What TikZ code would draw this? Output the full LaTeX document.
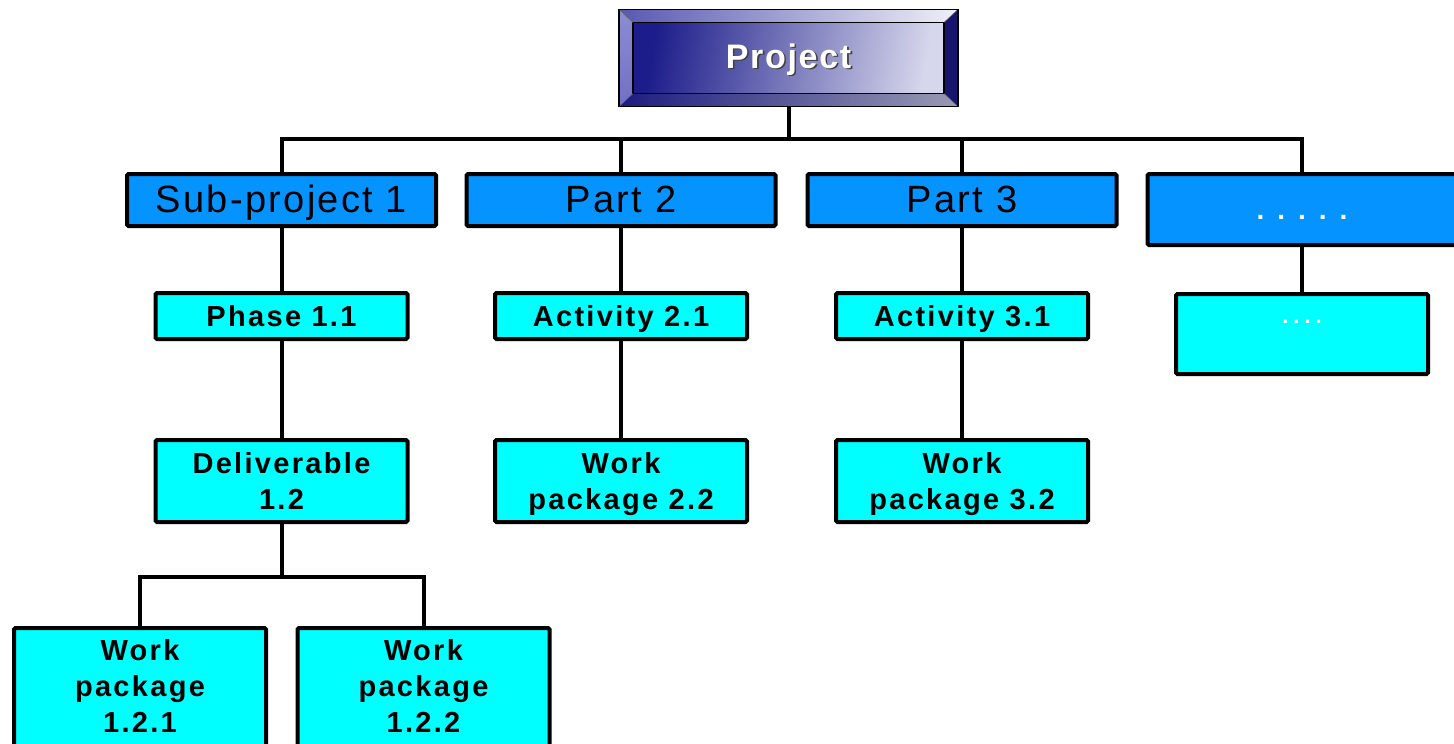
\documentclass[tikz,border=0pt]{standalone}
\usepackage{fontspec}
\setmainfont{Liberation Sans}
\usetikzlibrary{calc}

\definecolor{lvlone}{HTML}{0593FF}
\definecolor{lvltwo}{HTML}{00FFFF}
\definecolor{navydark}{HTML}{1C1C8A}
\definecolor{navydeep}{HTML}{16166E}
\definecolor{lavender}{HTML}{D6D6EC}
\definecolor{bevtopL}{HTML}{5858B2}
\definecolor{bevtopR}{HTML}{F0F0F8}
\definecolor{bevleft}{HTML}{7070C6}
\definecolor{bevbotL}{HTML}{1C1C80}
\definecolor{bevbotR}{HTML}{9A9AB4}

\newcommand\wbsone{\fontsize{38}{44}\selectfont\addfontfeature{LetterSpace=6}}
\newcommand\wbstwo{\fontsize{29}{36}\selectfont\bfseries\addfontfeature{LetterSpace=8}}
\newcommand\wbstop{\fontsize{34}{40}\selectfont\bfseries\addfontfeature{LetterSpace=5}}
\newcommand\shadowed[1]{{\color{black!75}\rlap{\hspace{1.6pt}\raisebox{-1.6pt}{#1}}}#1}

\begin{document}
\begin{tikzpicture}[x=1pt,y=-1pt,
  conn/.style={draw=black, line width=4pt},
  box/.style={draw=black, line width=4pt, rounded corners=1.5pt, inner sep=0pt, align=center},
  lvlonebox/.style={box, fill=lvlone, minimum width=309pt, minimum height=52pt, font=\wbsone,
    text height=27pt, text depth=3pt},
  lvltwobox/.style={box, fill=lvltwo, minimum width=252pt, minimum height=46pt, font=\wbstwo,
    text height=21pt, text depth=1pt},
  lvlthreebox/.style={box, fill=lvltwo, minimum width=252pt, minimum height=82pt, font=\wbstwo,
    text depth=0pt},
  lvlfourbox/.style={box, fill=lvltwo, minimum width=252pt, minimum height=130pt, font=\wbstwo,
    text depth=14pt},
  bevelbox/.style={draw=black, line width=1.5pt, inner sep=0pt, minimum width=339pt,
    minimum height=97pt, text=white, font=\wbstop, text height=24pt, text depth=4pt,
    path picture={
      \coordinate (oNW) at (path picture bounding box.north west);
      \coordinate (oNE) at (path picture bounding box.north east);
      \coordinate (oSW) at (path picture bounding box.south west);
      \coordinate (oSE) at (path picture bounding box.south east);
      \coordinate (iNW) at ($(oNW)+(14,13)$);
      \coordinate (iNE) at ($(oNE)+(-14,13)$);
      \coordinate (iSW) at ($(oSW)+(14,-13)$);
      \coordinate (iSE) at ($(oSE)+(-14,-13)$);
      \shade[left color=bevtopL, right color=bevtopR] (oNW) -- (oNE) -- (iNE) -- (iNW) -- cycle;
      \shade[top color=bevleft!80!white, bottom color=bevleft] (oNW) -- (iNW) -- (iSW) -- (oSW) -- cycle;
      \shade[left color=bevbotL, right color=bevbotR] (oSW) -- (iSW) -- (iSE) -- (oSE) -- cycle;
      \fill[navydeep] (oNE) -- (oSE) -- (iSE) -- (iNE) -- cycle;
      \shade[left color=navydark, right color=lavender, shading angle=80] (iNW) rectangle (iSE);
      \draw[black, line width=1.5pt] (iNW) rectangle (iSE);
      \draw[black!60, line width=0.6pt] (oNW) -- (iNW) (oNE) -- (iNE) (oSW) -- (iSW) (oSE) -- (iSE);
    }}]

\useasboundingbox (0,0) rectangle (1454,744);
\clip (0,0) rectangle (1454,744);
\fill[white] (0,0) rectangle (1454,744);

% root of the breakdown
\node[bevelbox] (proj) at (788.5,58) {\shadowed{Project}};

% first level
\node[lvlonebox] (sp1) at (281.5,200) {Sub-project 1};
\node[lvlonebox] (pt2) at (621,200) {Part 2};
\node[lvlonebox] (pt3) at (962,200) {Part 3};
\node[lvlonebox, minimum height=71pt, text height=20pt, text depth=0pt] (more) at (1302,209.5)
  {\fontsize{28}{30}\selectfont\bfseries\color{white}%
   .\hspace{13pt}.\hspace{13pt}.\hspace{13pt}.\hspace{13pt}.};

% second level
\node[lvltwobox] (ph11) at (281.5,316) {Phase 1.1};
\node[lvltwobox] (ac21) at (621,316) {Activity 2.1};
\node[lvltwobox] (ac31) at (962,316) {Activity 3.1};
\node[lvltwobox, minimum height=80pt, text height=0pt, text depth=22pt] (moresub) at (1302,334)
  {\fontsize{22}{24}\selectfont\bfseries\color{white}%
   .\hspace{5pt}.\hspace{5pt}.\hspace{5pt}.};

% third level
\node[lvlthreebox] (del12) at (281.5,481) {Deliverable\\1.2};
\node[lvlthreebox] (wp22) at (621,481) {Work\\package 2.2};
\node[lvlthreebox] (wp32) at (962,481) {Work\\package 3.2};

% fourth level
\node[lvlfourbox] (wp121) at (140,693) {Work\\package\\1.2.1};
\node[lvlfourbox] (wp122) at (423.5,693) {Work\\package\\1.2.2};

% connectors from the root
\draw[conn] (proj.south) -- ++(0,31.5) -| (sp1.north);
\draw[conn] (proj.south) -- ++(0,31.5) -| (pt2.north);
\draw[conn] (proj.south) -- ++(0,31.5) -| (pt3.north);
\draw[conn] (proj.south) -- ++(0,31.5) -| (more.north);

% vertical chains
\draw[conn] (sp1.south) -- (ph11.north);
\draw[conn] (ph11.south) -- (del12.north);
\draw[conn] (pt2.south) -- (ac21.north);
\draw[conn] (ac21.south) -- (wp22.north);
\draw[conn] (pt3.south) -- (ac31.north);
\draw[conn] (ac31.south) -- (wp32.north);
\draw[conn] (more.south) -- (moresub.north);

% deliverable split
\draw[conn] (del12.south) -- ++(0,53) -| (wp121.north);
\draw[conn] (del12.south) -- ++(0,53) -| (wp122.north);
\end{tikzpicture}
\end{document}
